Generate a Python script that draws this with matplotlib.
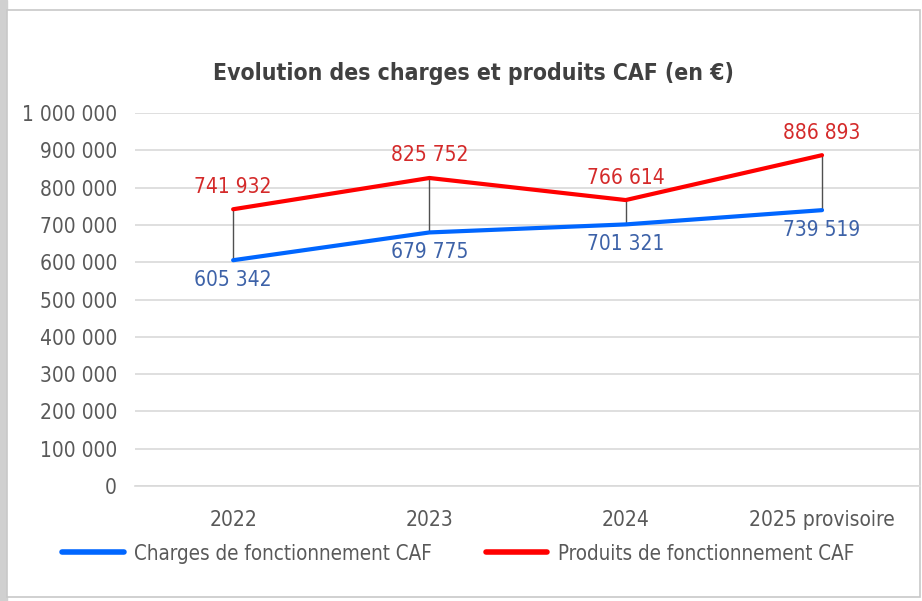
import matplotlib
matplotlib.use("Agg")
import matplotlib.pyplot as plt
from matplotlib.patches import Rectangle
from matplotlib.lines import Line2D

categories = ["2022", "2023", "2024", "2025 provisoire"]
charges = [605342, 679775, 701321, 739519]
produits = [741932, 825752, 766614, 886893]
yticks = [0, 100000, 200000, 300000, 400000, 500000, 600000, 700000, 800000, 900000, 1000000]

plt.rcParams['font.family'] = ["DejaVu Sans"]
plt.rcParams['font.stretch'] = "condensed"

def fmt(v):
    return f"{v:,}".replace(",", " ")

fig = plt.figure(figsize=(9.22, 6.01), dpi=100)
fig.patches.append(Rectangle((0, 0), 0.008, 1, transform=fig.transFigure, color="#d0d0d0", zorder=-3))
fig.patches.append(Rectangle((0.008, 0.006), 0.99, 0.978, transform=fig.transFigure,
                             facecolor="white", edgecolor="#c8c8c8", lw=1.2, zorder=-2))

ax = fig.add_axes([0.1464, 0.1913, 0.8516, 0.6207])
ax.patch.set_alpha(0)
x = list(range(len(categories)))

for i in x:
    ax.plot([i, i], [charges[i], produits[i]], color="#505050", lw=1.0, zorder=2)

ax.plot(x, charges, color="#0066ff", lw=3.0, solid_capstyle="round", zorder=3)
ax.plot(x, produits, color="#ff0000", lw=3.0, solid_capstyle="round", zorder=3)

for i in x:
    ax.annotate(fmt(produits[i]), (i, produits[i]), xytext=(0, 9), textcoords="offset points",
                ha="center", va="bottom", color="#d42a2a", fontsize=15)
    ax.annotate(fmt(charges[i]), (i, charges[i]), xytext=(0, -7), textcoords="offset points",
                ha="center", va="top", color="#3d62a8", fontsize=15)

ax.set_xlim(-0.5, len(categories) - 0.5)
ax.set_ylim(0, 1000000)
ax.set_yticks(yticks)
ax.set_yticklabels([fmt(v) for v in yticks], fontsize=15, color="#595959")
ax.set_xticks(x)
ax.set_xticklabels(categories, fontsize=15, color="#595959")
ax.tick_params(axis="both", length=0)
ax.tick_params(axis="y", pad=13)
ax.tick_params(axis="x", pad=17)
ax.grid(axis="y", color="#d9d9d9", lw=1.2)
ax.set_axisbelow(True)
for s in ["top", "right", "left"]:
    ax.spines[s].set_visible(False)
ax.spines["bottom"].set_color("#d9d9d9")
ax.spines["bottom"].set_linewidth(1.2)

fig.text(0.513, 0.878, "Evolution des charges et produits CAF (en €)", ha="center", va="center",
         fontsize=16.5, fontweight="bold", color="#404040")

handles = [Line2D([], [], color="#0066ff", lw=4, solid_capstyle="round"),
           Line2D([], [], color="#ff0000", lw=4, solid_capstyle="round")]
leg = fig.legend(handles, ["Charges de fonctionnement CAF", "Produits de fonctionnement CAF"],
                 loc="center", bbox_to_anchor=(0.497, 0.079), ncol=2, frameon=False,
                 fontsize=14.8, handlelength=3.0, columnspacing=2.6, handletextpad=0.5)
for t in leg.get_texts():
    t.set_color("#595959")

fig.savefig("out.png", dpi=100)
